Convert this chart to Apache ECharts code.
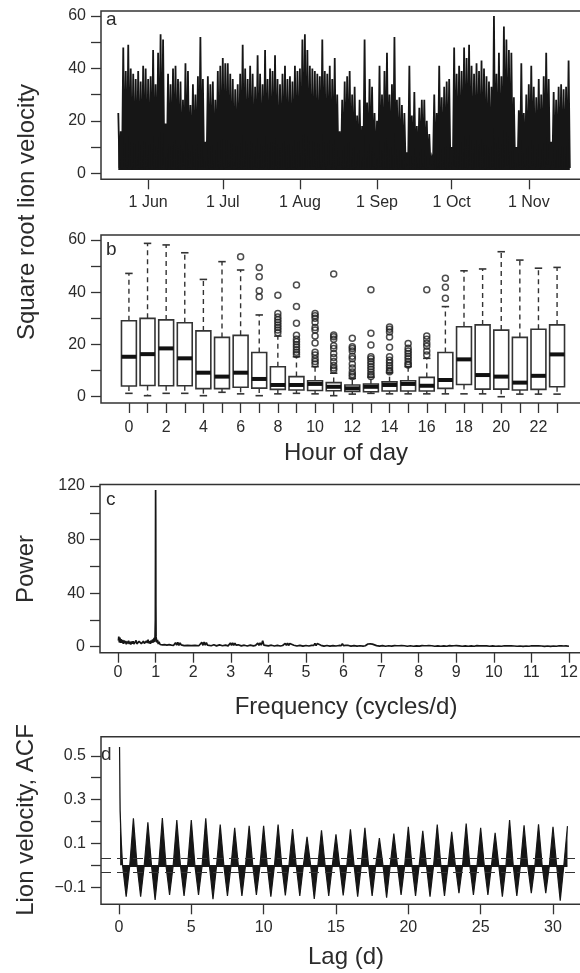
<!DOCTYPE html>
<html>
<head>
<meta charset="utf-8">
<script src="https://cdn.jsdelivr.net/npm/echarts@6/dist/echarts.min.js"></script>
<style>
  html, body { margin: 0; padding: 0; background: #fff; }
  #chart { width: 580px; height: 973px; }
</style>
</head>
<body>
<div id="chart"></div>
<script>
// ---- panel a: square root lion velocity, day index 0 = 20 May
var monthTickDays = [12, 42, 73, 104, 134, 165];
var monthLabels = ['1 Jun', '1 Jul', '1 Aug', '1 Sep', '1 Oct', '1 Nov'];
// nightly peak per day
var dailyPeak = [
  23, 16, 48, 39, 49, 40, 38, 36, 39, 35,
  41, 40, 36, 37, 47, 34, 46, 53, 51, 19,
  38, 34, 40, 41, 36, 35, 28, 42, 39, 26,
  34, 30, 37, 52, 36, 12, 37, 34, 35, 28,
  39, 41, 44, 42, 42, 38, 36, 32, 34, 38,
  49, 40, 36, 41, 38, 33, 45, 38, 34, 47,
  36, 40, 39, 45, 36, 34, 38, 41, 36, 37,
  35, 41, 39, 40, 51, 53, 47, 41, 40, 39,
  38, 37, 51, 39, 38, 41, 36, 44, 30, 16,
  28, 35, 37, 39, 30, 33, 22, 28, 18, 51,
  27, 36, 33, 23, 20, 41, 30, 39, 46, 30,
  34, 52, 28, 29, 26, 23, 8, 41, 22, 31,
  18, 25, 28, 28, 20, 15, 6, 30, 23, 41,
  29, 33, 35, 36, 10, 48, 38, 41, 39, 48,
  44, 49, 41, 38, 42, 39, 43, 40, 37, 35,
  33, 60, 38, 46, 37, 56, 51, 47, 46, 29,
  10, 24, 42, 23, 30, 34, 41, 33, 29, 36,
  30, 37, 46, 36, 12, 31, 28, 33, 34, 32,
  33, 43
];
// daytime resting level per day
var dailyLow = [
  2.0, 1.6, 2.4, 1.8, 2.6, 1.5, 2.2, 3.0, 1.7, 2.1,
  1.4, 2.5, 1.9, 2.8, 1.6, 2.3, 1.8, 2.0, 3.2, 1.5,
  2.2, 1.7, 2.6, 1.9, 1.5, 2.4, 2.9, 1.6, 2.1, 1.8,
  2.5, 1.4, 2.0, 2.7, 1.7, 3.0, 1.9, 2.3, 1.6, 2.2,
  1.8, 2.6, 1.5, 2.1, 2.4, 1.7, 2.8, 1.9, 2.2, 1.6,
  2.5, 1.8, 2.0, 1.4, 2.7, 2.1, 1.7, 2.3, 1.9, 2.6,
  1.5, 2.2, 1.8, 2.9, 1.6, 2.0, 2.4, 1.7, 2.1, 1.5,
  2.3, 1.9, 2.6, 1.8, 1.4, 2.2, 2.0, 1.6, 2.5, 1.9,
  2.1, 1.7, 2.4, 1.5, 2.8, 1.8, 2.2, 1.6, 3.1, 2.0,
  1.7, 2.3, 1.9, 2.6, 1.5, 2.1, 2.8, 1.8, 2.4, 1.6,
  2.2, 1.9, 2.5, 1.7, 2.0, 2.7, 1.6, 2.3, 1.8, 2.1,
  1.5, 2.6, 1.9, 2.2, 1.7, 2.4, 3.0, 1.8, 2.0, 1.6,
  2.3, 1.9, 2.5, 1.7, 2.1, 2.8, 3.2, 1.8, 2.2, 1.6,
  2.4, 1.9, 2.0, 1.7, 3.0, 2.5, 1.8, 2.2, 1.6, 2.1,
  1.9, 2.4, 1.7, 2.0, 2.6, 1.8, 2.3, 1.5, 2.1, 1.9,
  2.5, 1.7, 2.2, 1.8, 2.0, 2.6, 3.1, 1.9, 2.3, 1.7,
  2.4, 2.0, 1.8, 2.5, 1.6, 2.2, 2.9, 2.0, 2.4, 1.8,
  2.6, 2.1, 3.4, 1.9, 2.8, 2.3, 2.0, 2.7, 1.8, 2.2,
  2.5, 2.0
];

// ---- panel b: boxplots by hour of day
var hours = [0, 1, 2, 3, 4, 5, 6, 7, 8, 9, 10, 11, 12, 13, 14, 15, 16, 17, 18, 19, 20, 21, 22, 23];
var boxLow    = [1.3, 0.4, 1.3, 1.3, 0.4, 1.7, 1.1, 0.4, 1.1, 1.3, 1.1, 0.4, 1.0, 1.3, 1.1, 1.1, 1.1, 1.1, 1.1, 1.1, 0.0, 1.0, 1.0, 1.0];
var boxQ1     = [4.1, 4.3, 4.2, 4.2, 3.1, 3.1, 3.6, 3.3, 2.8, 2.6, 2.4, 2.3, 2.0, 1.9, 2.2, 2.2, 2.2, 3.2, 4.7, 2.9, 2.9, 2.6, 2.8, 3.8];
var boxMedian = [15.3, 16.3, 18.5, 14.7, 9.2, 7.7, 9.2, 6.8, 4.5, 4.5, 4.9, 3.8, 3.2, 3.8, 4.5, 4.9, 4.2, 6.4, 14.3, 8.3, 7.7, 5.4, 8.0, 16.2];
var boxQ3     = [29.1, 30.0, 29.4, 28.3, 25.2, 22.7, 23.5, 16.9, 11.5, 7.7, 6.1, 5.4, 4.5, 4.9, 5.7, 6.1, 7.4, 16.9, 26.8, 27.5, 25.5, 22.7, 25.8, 27.5];
var boxHigh   = [47.2, 58.7, 58.1, 55.1, 44.9, 51.7, 48.5, 31.3, 23.2, 15.3, 11.5, 9.0, 7.0, 7.5, 9.2, 11.5, 14.7, 34.5, 48.2, 48.9, 55.5, 52.3, 49.2, 49.5];
var outliers = [
  [6, 53.6],
  [7, 49.5], [7, 45.9], [7, 40.6], [7, 38.3],
  [8, 38.8], [8, 31.9], [8, 30.5], [8, 29.5], [8, 28.5], [8, 27.5], [8, 26.5], [8, 25.5], [8, 24.5],
  [9, 42.8], [9, 34.5], [9, 28.1], [9, 23.5], [9, 22], [9, 21], [9, 20], [9, 19], [9, 18], [9, 17], [9, 16.2],
  [10, 31.9], [10, 31], [10, 30], [10, 28.5], [10, 26.5], [10, 25.5], [10, 23.2], [10, 20.6], [10, 17], [10, 16], [10, 14.5], [10, 13.5], [10, 12.5],
  [11, 47.0], [11, 23.6], [11, 23], [11, 22], [11, 19.5], [11, 18.5], [11, 16.5], [11, 15], [11, 13.5], [11, 12], [11, 11], [11, 10.2],
  [12, 22.4], [12, 19.1], [12, 18.5], [12, 17.5], [12, 15.5], [12, 14.5], [12, 12.5], [12, 11], [12, 9.5], [12, 8.5], [12, 7.7],
  [13, 40.9], [13, 24.3], [13, 19.8], [13, 15.3], [13, 14.5], [13, 13.5], [13, 12.5], [13, 11.5], [13, 10.5], [13, 9.5], [13, 8.5], [13, 7.7],
  [14, 26.7], [14, 25.8], [14, 24.8], [14, 22.9], [14, 18.9], [14, 15.3], [14, 14], [14, 13], [14, 12], [14, 11], [14, 10], [14, 9.6],
  [15, 20.4], [15, 18.6], [15, 17.5], [15, 16.5], [15, 15.5], [15, 14.5], [15, 13.5], [15, 12.5], [15, 12.1],
  [16, 40.9], [16, 23.2], [16, 22], [16, 20.5], [16, 19.3], [16, 17.5], [16, 16],
  [17, 45.3], [17, 41.9], [17, 37.7]
];

// ---- panel c: periodogram [frequency, power]
var spectrumLow = [
  [0.01, 4.5], [0.02, 7.5], [0.035, 3.2], [0.05, 6.8], [0.065, 2.8], [0.08, 5.6], [0.1, 3.0], [0.12, 5.0],
  [0.14, 2.2], [0.16, 4.6], [0.18, 2.6], [0.2, 4.2], [0.22, 1.8], [0.24, 3.9], [0.26, 2.4], [0.28, 4.4],
  [0.3, 2.0], [0.32, 3.6], [0.34, 1.6], [0.36, 3.8], [0.38, 2.2], [0.4, 4.0], [0.42, 1.9], [0.44, 3.3],
  [0.46, 2.5], [0.48, 4.6], [0.5, 2.1], [0.52, 3.5], [0.54, 1.7], [0.56, 3.9], [0.58, 2.6], [0.6, 4.8],
  [0.62, 2.3], [0.64, 3.6], [0.66, 1.8], [0.68, 4.1], [0.7, 2.4], [0.72, 3.4], [0.74, 2.0], [0.76, 4.3],
  [0.78, 2.7], [0.8, 5.2], [0.82, 2.5], [0.84, 4.0], [0.86, 2.2], [0.88, 4.6], [0.9, 2.8], [0.92, 5.4],
  [0.94, 3.0], [0.96, 6.5], [0.975, 3.6], [0.985, 8.0], [0.993, 20], [0.997, 70], [1.0, 117], [1.003, 95],
  [1.007, 30], [1.012, 7.5], [1.03, 3.2], [1.05, 5.0], [1.07, 2.0], [1.09, 3.6], [1.12, 1.6], [1.15, 3.0],
  [1.18, 1.3], [1.21, 2.6], [1.24, 1.5], [1.27, 2.8], [1.3, 1.2], [1.33, 2.4], [1.36, 1.5], [1.39, 2.0],
  [1.42, 1.1], [1.45, 2.2], [1.48, 1.0]
];
var spectrumHigh = [
  [1.5, 1.4], [1.53, 3.0], [1.56, 1.2], [1.59, 3.2], [1.62, 1.0], [1.65, 2.9], [1.68, 1.3], [1.72, 2.0],
  [1.76, 0.8], [1.8, 1.8], [1.85, 0.9], [1.9, 1.6], [1.95, 0.8], [2.0, 2.2], [2.05, 1.0], [2.1, 1.6], [2.15, 0.7],
  [2.2, 1.2], [2.23, 3.2], [2.26, 1.0], [2.29, 3.4], [2.32, 1.1], [2.35, 3.1], [2.38, 1.2], [2.42, 1.8],
  [2.48, 0.7], [2.55, 1.4], [2.62, 0.6], [2.7, 1.3], [2.78, 0.7], [2.86, 1.2], [2.93, 0.6],
  [2.96, 1.1], [2.99, 2.8], [3.02, 0.9], [3.05, 2.9], [3.08, 1.0], [3.11, 2.7], [3.14, 1.1], [3.2, 1.4],
  [3.28, 0.6], [3.36, 1.1], [3.44, 0.5], [3.52, 1.2], [3.6, 0.6], [3.66, 1.0],
  [3.69, 1.0], [3.72, 2.7], [3.75, 1.0], [3.78, 2.8], [3.81, 1.1], [3.85, 4.5], [3.88, 1.2], [3.92, 1.4],
  [4.0, 0.6], [4.08, 1.1], [4.16, 0.5], [4.24, 1.0], [4.32, 0.5], [4.38, 0.9],
  [4.42, 1.0], [4.45, 2.5], [4.48, 0.9], [4.51, 2.6], [4.54, 0.9], [4.57, 2.4], [4.6, 1.0], [4.68, 1.1],
  [4.76, 0.5], [4.84, 1.0], [4.92, 0.4], [5.0, 0.9], [5.08, 0.5], [5.12, 0.8],
  [5.15, 1.0], [5.18, 2.4], [5.21, 0.9], [5.24, 2.5], [5.27, 0.8], [5.3, 2.3], [5.33, 1.0], [5.4, 1.0],
  [5.48, 0.4], [5.56, 0.9], [5.64, 0.4], [5.72, 0.8], [5.8, 0.5], [5.85, 0.8],
  [5.88, 0.9], [5.91, 2.2], [5.94, 0.8], [5.97, 2.3], [6.0, 0.8], [6.03, 2.1], [6.06, 0.9], [6.13, 0.9],
  [6.2, 0.4], [6.28, 0.8], [6.36, 0.4], [6.44, 0.7], [6.52, 0.4], [6.58, 0.7],
  [6.62, 0.9], [6.65, 2.0], [6.68, 0.8], [6.71, 2.1], [6.74, 0.7], [6.77, 1.9], [6.8, 0.9], [6.88, 0.8],
  [6.96, 0.4], [7.04, 0.8], [7.12, 0.3], [7.2, 0.7], [7.28, 0.4], [7.32, 0.7],
  [7.36, 0.8], [7.39, 1.9], [7.42, 0.7], [7.45, 2.0], [7.48, 0.7], [7.51, 1.8], [7.54, 0.8], [7.62, 0.7],
  [7.7, 0.3], [7.78, 0.7], [7.86, 0.3], [7.94, 0.6], [8.02, 0.4], [8.06, 0.6],
  [8.09, 0.8], [8.12, 1.9], [8.15, 0.7], [8.18, 2.0], [8.21, 0.7], [8.24, 1.8], [8.27, 0.8], [8.35, 0.7],
  [8.43, 0.3], [8.51, 0.6], [8.59, 0.3], [8.67, 0.6], [8.75, 0.3], [8.79, 0.6],
  [8.82, 0.8], [8.85, 1.8], [8.88, 0.6], [8.91, 1.9], [8.94, 0.7], [8.97, 1.7], [9.0, 0.8], [9.08, 0.6],
  [9.16, 0.3], [9.24, 0.6], [9.32, 0.3], [9.4, 0.6], [9.48, 0.3], [9.52, 0.6],
  [9.55, 0.8], [9.58, 1.7], [9.61, 0.6], [9.64, 1.8], [9.67, 0.6], [9.7, 1.6], [9.73, 0.7], [9.81, 0.6],
  [9.89, 0.3], [9.97, 0.6], [10.05, 0.3], [10.13, 0.5], [10.21, 0.3], [10.25, 0.5],
  [10.28, 0.7], [10.31, 1.7], [10.34, 0.6], [10.37, 1.8], [10.4, 0.6], [10.43, 1.6], [10.46, 0.7], [10.54, 0.5],
  [10.62, 0.3], [10.7, 0.5], [10.78, 0.2], [10.86, 0.5], [10.94, 0.3], [10.98, 0.5],
  [11.01, 0.7], [11.04, 1.7], [11.07, 0.6], [11.1, 1.7], [11.13, 0.6], [11.16, 1.6], [11.19, 0.7], [11.27, 0.5],
  [11.35, 0.2], [11.43, 0.5], [11.51, 0.2], [11.59, 0.5], [11.67, 0.3], [11.71, 0.5],
  [11.74, 0.7], [11.77, 1.6], [11.8, 0.6], [11.83, 1.7], [11.86, 0.5], [11.89, 1.5], [11.92, 0.6], [11.96, 0.4],
  [12.0, 0.3]
];

// ---- panel d: autocorrelation, lag in days
var acfStart = [[0.042, 0.54], [0.083, 0.25], [0.125, 0.17], [0.167, 0.1], [0.25, 0]];
var acfPeaks = [0.214, 0.196, 0.216, 0.206, 0.206, 0.214, 0.186, 0.171, 0.180, 0.180, 0.186, 0.165, 0.130, 0.160, 0.141, 0.164,
  0.171, 0.124, 0.145, 0.176, 0.157, 0.186, 0.153, 0.190, 0.171, 0.148, 0.206, 0.183, 0.187, 0.176, 0.179];
var acfTroughs = [-0.143, -0.143, -0.158, -0.135, -0.140, -0.135, -0.155, -0.140, -0.140, -0.135, -0.143, -0.138, -0.140, -0.153,
  -0.140, -0.138, -0.143, -0.140, -0.148, -0.135, -0.140, -0.143, -0.140, -0.127, -0.135, -0.135, -0.143, -0.140, -0.127, -0.127, -0.161];
var acfBound = 0.032;

var ink = '#333';
var dark = '#161616';
var textColor = '#2b2b2b';
var font = "'Liberation Sans', Arial, Helvetica, sans-serif";

var velocityData = [];
dailyPeak.forEach(function(p, d) {
  velocityData.push([d, p]);
  velocityData.push([d + 0.5, dailyLow[d]]);
});

var boxData = hours.map(function(h, i) {
  return [h, boxLow[i], boxQ1[i], boxMedian[i], boxQ3[i], boxHigh[i]];
});

var acfData = acfStart.slice();
acfTroughs.forEach(function(t, i) {
  acfData.push([i + 0.5, t]);
  acfData.push([i + 0.75, 0]);
  acfData.push([i + 1, acfPeaks[i]]);
  if (i < acfTroughs.length - 1) acfData.push([i + 1.25, 0]);
});

function valueAxis(grid, min, max, ticks, labels, fmt, margin) {
  return {
    type: 'value', gridIndex: grid, min: min, max: max,
    splitLine: { show: false },
    axisLine: { show: false, onZero: false },
    axisTick: { show: true, length: 10, customValues: ticks, lineStyle: { color: ink, width: 1.3 } },
    axisLabel: {
      show: true, customValues: labels, margin: margin || 15,
      color: textColor, fontSize: 16, fontFamily: font,
      formatter: fmt || function(v) { return String(v); }
    }
  };
}

function renderBox(params, api) {
  var h = api.value(0);
  var lo = api.coord([h, api.value(1)]);
  var q1 = api.coord([h, api.value(2)]);
  var md = api.coord([h, api.value(3)]);
  var q3 = api.coord([h, api.value(4)]);
  var hi = api.coord([h, api.value(5)]);
  var w = api.size([0.8, 0])[0];
  var x = lo[0];
  var cap = w / 4;
  var dash = { stroke: ink, lineWidth: 1.4, lineDash: [5, 4] };
  var solid = { stroke: ink, lineWidth: 1.6 };
  return {
    type: 'group',
    children: [
      { type: 'line', shape: { x1: x, y1: q3[1], x2: x, y2: hi[1] }, style: dash },
      { type: 'line', shape: { x1: x, y1: q1[1], x2: x, y2: lo[1] }, style: dash },
      { type: 'line', shape: { x1: x - cap, y1: hi[1], x2: x + cap, y2: hi[1] }, style: solid },
      { type: 'line', shape: { x1: x - cap, y1: lo[1], x2: x + cap, y2: lo[1] }, style: solid },
      { type: 'rect', shape: { x: x - w / 2, y: q3[1], width: w, height: q1[1] - q3[1] },
        style: { fill: '#fff', stroke: ink, lineWidth: 1.6 } },
      { type: 'line', shape: { x1: x - w / 2, y1: md[1], x2: x + w / 2, y2: md[1] },
        style: { stroke: '#111', lineWidth: 4 } }
    ]
  };
}

function gridBox(left, top, width, height) {
  return { left: left, top: top, width: width, height: height, show: true,
    borderColor: ink, borderWidth: 1.5, backgroundColor: 'transparent', outerBoundsMode: 'none' };
}

function label(text, x, y, size, rotate) {
  return { type: 'text', x: x, y: y, rotation: rotate ? Math.PI / 2 : 0,
    style: { text: text, fill: textColor, font: size + 'px ' + font, textAlign: 'center', textVerticalAlign: 'middle' } };
}

function letter(text, x, y) {
  return { type: 'text', x: x, y: y,
    style: { text: text, fill: textColor, font: '19px ' + font, textAlign: 'left', textVerticalAlign: 'bottom' } };
}

var chart = echarts.init(document.getElementById('chart'), null, { renderer: 'canvas' });

chart.setOption({
  animation: false,
  backgroundColor: '#fff',
  grid: [
    gridBox(101, 11, 486, 168.3),
    gridBox(101, 235, 484, 168),
    gridBox(100, 484.5, 487, 168.2),
    gridBox(101, 736.7, 486, 167.6)
  ],
  xAxis: [
    valueAxis(0, -6.95, 188.4, monthTickDays, monthTickDays, function(v) {
      return monthLabels[monthTickDays.indexOf(v)];
    }),
    valueAxis(1, -1.5, 24.5, hours, hours.filter(function(h) { return h % 2 === 0; }), null, 17),
    valueAxis(2, -0.48, 12.48, [0, 1, 2, 3, 4, 5, 6, 7, 8, 9, 10, 11, 12], [0, 1, 2, 3, 4, 5, 6, 7, 8, 9, 10, 11, 12], null, 12),
    valueAxis(3, -1.24, 32.35, [0, 5, 10, 15, 20, 25, 30], [0, 5, 10, 15, 20, 25, 30])
  ],
  yAxis: [
    valueAxis(0, -2.3, 61.9, [0, 10, 20, 30, 40, 50, 60], [0, 20, 40, 60]),
    valueAxis(1, -2.4, 61.9, [0, 10, 20, 30, 40, 50, 60], [0, 20, 40, 60]),
    valueAxis(2, -4.5, 121.1, [0, 20, 40, 60, 80, 100, 120], [0, 40, 80, 120]),
    valueAxis(3, -0.178, 0.587, [-0.1, 0, 0.1, 0.2, 0.3, 0.4, 0.5], [-0.1, 0.1, 0.3, 0.5], function(v) {
      return v.toFixed(1).replace('-', '\u2212');
    })
  ],
  series: [
    {
      type: 'line', xAxisIndex: 0, yAxisIndex: 0, data: velocityData,
      showSymbol: false, silent: true,
      lineStyle: { color: dark, width: 1.8, join: 'miter' },
      areaStyle: { color: dark, opacity: 1, origin: 1.2 }
    },
    {
      type: 'custom', xAxisIndex: 1, yAxisIndex: 1, data: boxData,
      renderItem: renderBox, encode: { x: 0, y: [1, 2, 3, 4, 5] }, silent: true
    },
    {
      type: 'scatter', xAxisIndex: 1, yAxisIndex: 1, data: outliers,
      symbol: 'circle', symbolSize: 6, silent: true,
      itemStyle: { color: 'rgba(0,0,0,0)', borderColor: '#222', borderWidth: 1.5 }
    },
    {
      type: 'line', xAxisIndex: 2, yAxisIndex: 2, data: spectrumLow.concat(spectrumHigh),
      showSymbol: false, silent: true,
      lineStyle: { color: dark, width: 1.7 }
    },
    {
      type: 'line', xAxisIndex: 3, yAxisIndex: 3, data: acfData,
      showSymbol: false, silent: true,
      lineStyle: { color: dark, width: 1.2 },
      areaStyle: { color: dark, opacity: 1, origin: 0 },
      markLine: {
        silent: true, symbol: 'none', label: { show: false },
        lineStyle: { color: ink, width: 1.2, type: [10, 6] },
        data: [
          { yAxis: acfBound },
          { yAxis: -acfBound },
          [{ coord: [acfStart[acfStart.length - 1][0], 0], lineStyle: { color: dark, width: 2.2, type: 'solid' } },
           { coord: [acfPeaks.length, 0] }]
        ]
      }
    }
  ],
  graphic: [
    letter('a', 106, 29),
    letter('b', 106, 259),
    letter('c', 106, 509),
    letter('d', 101, 764),
    label('Square root lion velocity', 27, 212, 24, true),
    label('Power', 26, 569, 24, true),
    label('Lion velocity, ACF', 26, 820, 24, true),
    label('Hour of day', 346, 453, 24),
    label('Frequency (cycles/d)', 346, 707, 24),
    label('Lag (d)', 346, 957, 24)
  ]
});
</script>
</body>
</html>
